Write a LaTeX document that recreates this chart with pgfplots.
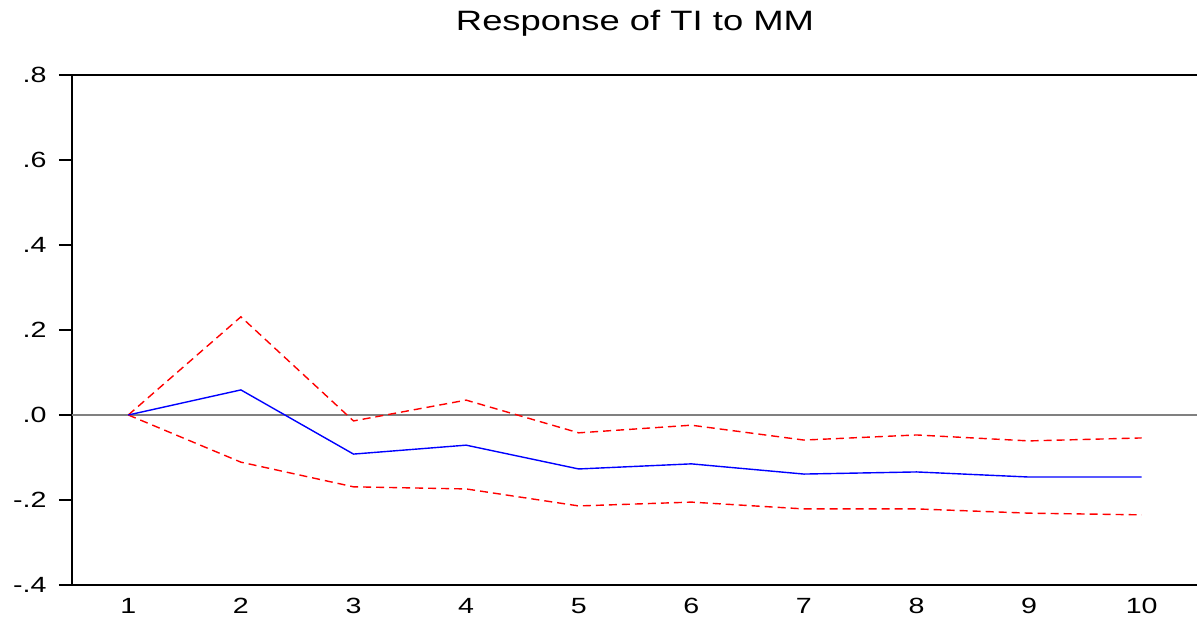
\documentclass[border=0pt]{standalone}
\usepackage{fontspec}
\setmainfont{Liberation Sans}[FakeStretch=1.3]
\usepackage{pgfplots}
\pgfplotsset{compat=1.18}

\begin{document}
\begin{tikzpicture}
  \begin{axis}[
      name=ax,
      scale only axis,
      width=563pt, height=255pt,
      xmin=0.5, xmax=10.5,
      ymin=-0.4, ymax=0.8,
      axis x line*=box,
      axis y line*=left,
      axis line style={black, line width=1pt},
      xtick={1,2,3,4,5,6,7,8,9,10},
      xtick style={draw=none},
      minor xtick={0.5,1.5,2.5,3.5,4.5,5.5,6.5,7.5,8.5,9.5,10.5},
      xtick pos=bottom,
      ytick={-0.4,-0.2,0,0.2,0.4,0.6,0.8},
      yticklabels={-.4,-.2,.0,.2,.4,.6,.8},
      ytick pos=left,
      tick align=outside,
      major tick length=6.5pt,
      minor tick length=4.5pt,
      tick style={black, line width=0.6pt},
      xticklabel style={font=\fontsize{11pt}{13pt}\selectfont, anchor=north, inner sep=0pt},
      yticklabel style={font=\fontsize{11pt}{13pt}\selectfont, anchor=east, inner sep=0pt, xshift=-6pt},
      /pgf/number format/assume math mode=true,
      title={Response of TI to MM},
      title style={at={(0.5,1)}, anchor=base, yshift=16pt, inner sep=0pt, font=\fontsize{14pt}{16pt}\selectfont},
      clip=false,
    ]
    % zero line
    \addplot[gray, line width=0.7pt] coordinates {(0.5,0) (10.5,0)};
    % upper band
    \addplot[red, line width=0.7pt, dash pattern=on 4pt off 2.5pt] coordinates {
      (1,0) (2,0.231) (3,-0.014) (4,0.035) (5,-0.042) (6,-0.024) (7,-0.059) (8,-0.047) (9,-0.061) (10,-0.054)};
    % lower band
    \addplot[red, line width=0.7pt, dash pattern=on 4pt off 2.5pt] coordinates {
      (1,0) (2,-0.111) (3,-0.169) (4,-0.174) (5,-0.214) (6,-0.205) (7,-0.221) (8,-0.221) (9,-0.231) (10,-0.235)};
    % response
    \addplot[blue, line width=0.7pt] coordinates {
      (1,0) (2,0.059) (3,-0.092) (4,-0.071) (5,-0.127) (6,-0.115) (7,-0.139) (8,-0.134) (9,-0.146) (10,-0.146)};
  \end{axis}
  \pgfresetboundingbox
  \path[use as bounding box] ([shift={(-36pt,-18.5pt)}]ax.south west) rectangle ([shift={(-0.5pt,37.5pt)}]ax.north east);
\end{tikzpicture}
\end{document}
